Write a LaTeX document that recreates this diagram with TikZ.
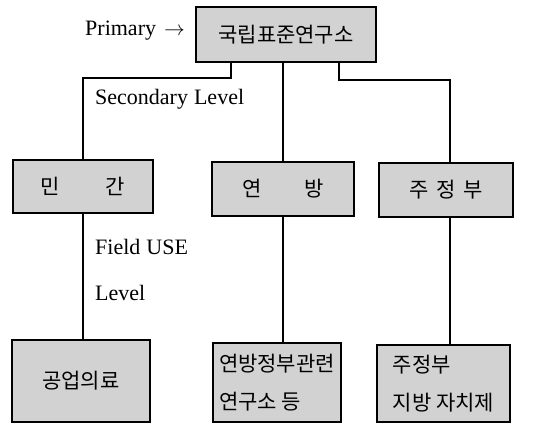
\documentclass[tikz,border=0pt]{standalone}
\usepackage{fontspec}
\setmainfont{Liberation Serif}
\newfontfamily\kr{Noto Sans CJK KR}

\begin{document}
\begin{tikzpicture}[x=1pt, y=-1pt,
  org/.style={draw, line width=1.6pt, fill=gray!35, inner sep=0pt,
    font=\kr\fontsize{21}{38}\selectfont},
  lbl/.style={anchor=west, inner sep=0pt, font=\fontsize{22}{24}\selectfont},
  link/.style={line width=1.4pt}]
  \useasboundingbox (0,0) rectangle (550,424);
  % top level
  \node[org, minimum width=180pt, minimum height=55pt] (nist) at (286,34.5) {국립표준연구소};
  \node[lbl] (primary) at (85,31) {Primary\hspace{8pt}$\rightarrow$};
  % secondary level
  \node[org, minimum width=140pt, minimum height=53pt] (minkan) at (83,186.5) {민\hspace{46pt}간};
  \node[org, minimum width=142pt, minimum height=54pt] (yeonbang) at (283,189) {연\hspace{43pt}방};
  \node[org, minimum width=134pt, minimum height=54pt] (jungbu) at (446,190) {주\hspace{8pt}정\hspace{7pt}부};
  \node[lbl] (secondary) at (95,99) {Secondary\hspace{6pt}Level};
  % field use level
  \node[org, minimum width=138pt, minimum height=82pt] (industry) at (81,381) {공업의료};
  \node[org, minimum width=128pt, minimum height=79pt, align=left] (fedinst) at (277,382.5) {연방정부관련\\연구소 등};
  \node[org, minimum width=133pt, minimum height=77pt, align=left] (local) at (443.5,383.5) {주정부\\지방 자치제};
  \node[lbl] (fielduse) at (95,247) {Field\hspace{6pt}USE};
  \node[lbl] (fieldlevel) at (95,293) {Level};
  % connectors
  \draw[link] ([xshift=-55pt]nist.south) -- ++(0,15) -| (minkan.north);
  \draw[link] (yeonbang.north |- nist.south) -- (yeonbang.north);
  \draw[link] ([xshift=53pt]nist.south) -- ++(0,17) -| ([xshift=4pt]jungbu.north);
  \draw[link] (minkan.south) -- (minkan.south |- industry.north);
  \draw[link] (yeonbang.south) -- (yeonbang.south |- fedinst.north);
  \draw[link] ([xshift=4pt]jungbu.south) -- ([xshift=4pt]jungbu.south |- local.north);
\end{tikzpicture}
\end{document}
